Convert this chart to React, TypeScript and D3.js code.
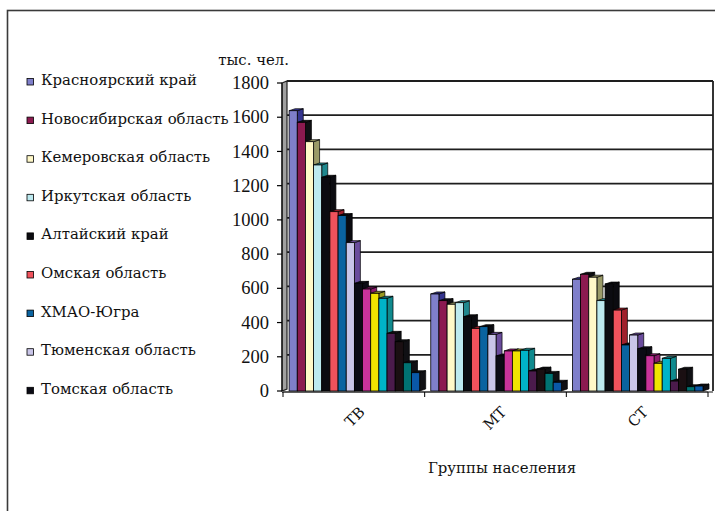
import React from "react";
import * as d3 from "d3";

const groups = ["ТВ", "МТ", "СТ"];
const seriesNames = [
  "Красноярский край",
  "Новосибирская область",
  "Кемеровская область",
  "Иркутская область",
  "Алтайский край",
  "Омская область",
  "ХМАО-Югра",
  "Тюменская область",
  "Томская область",
  "Ряд10",
  "Ряд11",
  "Ряд12",
  "Ряд13",
  "Ряд14",
  "Ряд15",
  "Ряд16",
];
const legendCount = 9;
const valuesTV = [1638, 1570, 1457, 1321, 1249, 1048, 1025, 867, 629, 596, 571, 542, 337, 288, 165, 107];
const valuesMT = [567, 528, 507, 516, 434, 366, 376, 331, 205, 234, 234, 238, 117, 128, 103, 51];
const valuesST = [653, 682, 665, 528, 625, 473, 269, 327, 247, 206, 162, 191, 58, 127, 25, 29];
const yTicks = [0, 200, 400, 600, 800, 1000, 1200, 1400, 1600, 1800];

const frontColors = [
  "#7f7fca", "#8c1a50", "#fff8c8", "#bce9ef", "#0b0b10", "#f0525c", "#0a63a0", "#c9c5e8",
  "#0b0b14", "#c8339a", "#f0e400", "#00b3c8", "#4b1b4c", "#1a0f12", "#007272", "#0a58a8",
];
const sideColors = [
  "#35358f", "#101014", "#9a9a68", "#20888e", "#0b0b10", "#a0202c", "#0b0b10", "#6a4c9c",
  "#0b0b14", "#8a1a6c", "#9a9a20", "#108a8e", "#101014", "#101014", "#101014", "#101014",
];

const cyr: React.CSSProperties = {
  fontFamily: '"DejaVu Serif", serif',
  fontSize: "14.9px",
};
const num: React.CSSProperties = {
  fontFamily: '"Liberation Serif", "Times New Roman", serif',
  fontSize: "18.5px",
};

export default function App() {
  const W = 715, H = 511;
  const data = [valuesTV, valuesMT, valuesST];
  const y = d3.scaleLinear().domain([0, 1800]).range([391, 83]);
  const x0 = d3.scaleBand<string>().domain(groups).range([283, 708]);
  const x1 = d3
    .scaleBand<number>()
    .domain(d3.range(seriesNames.length))
    .range([0, x0.bandwidth()])
    .paddingOuter(0.68)
    .align(0.55);
  const bw = x1.bandwidth();
  const dx = 6, dy = -2;
  const y0 = y(0);
  const wallL = 282, wallR = 287, backR = 713, axisR = 708;

  return (
    <svg width={W} height={H} style={{ position: "absolute", left: 0, top: 0, background: "#fff" }}>
      <rect x={7.5} y={10.5} width={800} height={600} fill="none" stroke="#3a3a3a" strokeWidth={1.6} />

      {yTicks.slice(1, -1).map((t) => (
        <line key={"g" + t} x1={wallR} x2={backR} y1={y(t) + dy} y2={y(t) + dy} stroke="#1e1e1e" strokeWidth={1.8} />
      ))}
      <line x1={wallR} x2={backR} y1={y(1800) + dy} y2={y(1800) + dy} stroke="#1e1e1e" strokeWidth={1.8} />
      <line x1={backR} x2={backR} y1={y(1800) + dy} y2={y0 + dy + 2} stroke="#1e1e1e" strokeWidth={1.8} />
      <polygon
        points={`${wallL},${y(1800)} ${wallR},${y(1800) + dy} ${wallR},${y0 + dy} ${wallL},${y0}`}
        fill="#a0a0a0"
        stroke="#222"
        strokeWidth={1.2}
      />
      <line x1={wallL} x2={backR} y1={y0 + 1} y2={y0 + 1} stroke="#8a8a8a" strokeWidth={2} />

      {groups.map((g, gi) => (
        <g key={g}>
          {data[gi].map((v, i) => {
            const x = (x0(g) as number) + (x1(i) as number);
            const yt = y(v);
            return (
              <g key={i}>
                <polygon
                  points={`${x + bw},${yt} ${x + bw + dx},${yt + dy} ${x + bw + dx},${y0 + dy} ${x + bw},${y0}`}
                  fill={sideColors[i]}
                  stroke="#000"
                  strokeWidth={0.7}
                />
                <polygon
                  points={`${x},${yt} ${x + dx},${yt + dy} ${x + bw + dx},${yt + dy} ${x + bw},${yt}`}
                  fill={sideColors[i]}
                  stroke="#000"
                  strokeWidth={0.7}
                />
                <rect x={x} y={yt} width={bw} height={y0 - yt} fill={frontColors[i]} stroke="#000" strokeWidth={0.8} />
              </g>
            );
          })}
        </g>
      ))}

      <line x1={wallL} x2={wallL} y1={y(1800)} y2={y0} stroke="#000" strokeWidth={1} />
      {yTicks.map((t) => (
        <g key={"t" + t}>
          <line x1={277} x2={wallL} y1={y(t)} y2={y(t)} stroke="#000" strokeWidth={1.2} />
          <text x={269} y={y(t)} dy="0.33em" textAnchor="end" style={num} fill="#111">
            {t}
          </text>
        </g>
      ))}
      <text x={289} y={65} textAnchor="end" style={cyr} fill="#111">
        тыс. чел.
      </text>

      <line x1={wallL} x2={axisR} y1={y0 + 1} y2={y0 + 1} stroke="#333" strokeWidth={1} />
      {[...groups.map((g) => x0(g) as number), axisR].map((xx, i) => (
        <line key={"xt" + i} x1={xx} x2={xx} y1={y0 + 1} y2={y0 + 6} stroke="#000" strokeWidth={1} />
      ))}
      {groups.map((g) => {
        const cx = (x0(g) as number) + x0.bandwidth() / 2 + 4;
        const cy = 405;
        return (
          <text
            key={"xl" + g}
            x={cx}
            y={cy}
            textAnchor="end"
            transform={`rotate(-45 ${cx} ${cy})`}
            style={cyr}
            dy="0.75em"
            fill="#111"
          >
            {g}
          </text>
        );
      })}
      <text x={502} y={473} textAnchor="middle" style={cyr} fill="#111">
        Группы населения
      </text>

      {seriesNames.slice(0, legendCount).map((n, i) => {
        const by = 85 + 38.6 * i;
        return (
          <g key={"l" + i}>
            <rect x={27} y={by - 6.5} width={6.5} height={6.5} fill={frontColors[i]} stroke="#000" strokeWidth={0.8} />
            <text x={41} y={by} style={cyr} fill="#111">
              {n}
            </text>
          </g>
        );
      })}
    </svg>
  );
}
